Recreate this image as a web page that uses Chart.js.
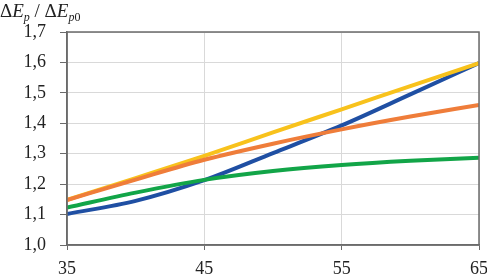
<!DOCTYPE html>
<html>
<head>
<meta charset="utf-8">
<script src="https://cdn.jsdelivr.net/npm/chart.js@4/dist/chart.umd.min.js"></script>
<style>
  html, body { margin: 0; padding: 0; background: #fff; }
  #wrap { width: 487px; height: 277px; position: relative; }
</style>
</head>
<body>
<div id="wrap"><canvas id="chart"></canvas></div>
<script>
// x values (shared) and the four curves
const xValues = [35, 40, 45, 50, 55, 60, 65];
const orangeValues = [1.148, 1.215, 1.280, 1.333, 1.380, 1.422, 1.460];
const greenValues  = [1.123, 1.172, 1.214, 1.243, 1.263, 1.277, 1.287];
const yellowValues = [1.148, 1.220, 1.293, 1.370, 1.446, 1.522, 1.598];
const blueValues   = [1.102, 1.145, 1.213, 1.302, 1.393, 1.495, 1.598];

const FONT = '"Liberation Serif", "DejaVu Serif", serif';

const toPoints = vals => vals.map((v, i) => ({ x: xValues[i], y: v }));

const makeSet = (vals, color) => ({
  data: toPoints(vals),
  borderColor: color,
  backgroundColor: color,
  borderWidth: 4,
  pointRadius: 0,
  cubicInterpolationMode: 'monotone',
  fill: false
});

// frame around plot area + axis title with subscripts
const framePlugin = {
  id: 'frame',
  afterDraw(chart) {
    const { ctx, chartArea: a } = chart;
    ctx.save();
    ctx.strokeStyle = '#6b6b6b';
    ctx.lineWidth = 1.5;
    ctx.strokeRect(a.left, a.top, a.right - a.left, a.bottom - a.top);

    // title: ΔEp / ΔEp0
    ctx.fillStyle = '#222';
    ctx.textBaseline = 'alphabetic';
    let x = 0;
    const base = 17;
    const parts = [
      ['Δ', 'normal', 19, 0],
      ['E', 'italic', 19, 0],
      ['p', 'italic', 12, 4],
      [' / Δ', 'normal', 19, 0],
      ['E', 'italic', 19, 0],
      ['p', 'italic', 12, 4],
      ['0', 'normal', 12, 4]
    ];
    parts.forEach(([t, style, size, dy]) => {
      ctx.font = `${style} ${size}px ${FONT}`;
      ctx.fillText(t, x, base + dy);
      x += ctx.measureText(t).width;
    });
    ctx.restore();
  }
};

new Chart(document.getElementById('chart'), {
  type: 'line',
  data: {
    datasets: [
      makeSet(orangeValues, '#ef7d3a'),
      makeSet(greenValues, '#12a548'),
      makeSet(yellowValues, '#f8c21c'),
      makeSet(blueValues, '#1f4fa3')
    ]
  },
  options: {
    responsive: true,
    maintainAspectRatio: false,
    animation: false,
    layout: { padding: { top: 32, right: 8, left: 0, bottom: 0 } },
    plugins: {
      legend: { display: false },
      tooltip: { enabled: false }
    },
    scales: {
      x: {
        type: 'linear',
        min: 35,
        max: 65,
        ticks: {
          stepSize: 10,
          color: '#222',
          padding: 8,
          maxRotation: 0,
          font: { family: FONT, size: 18 }
        },
        grid: { color: '#d9d9d9', tickColor: '#6b6b6b', tickLength: 5, lineWidth: 1 },
        border: { color: '#6b6b6b', width: 1.5 },
        afterFit(scale) {
          scale.height = 32;
          scale.paddingLeft = 0;
          scale.paddingRight = 0;
        }
      },
      y: {
        min: 1.0,
        max: 1.7,
        ticks: {
          stepSize: 0.1,
          color: '#222',
          padding: 14,
          font: { family: FONT, size: 18 },
          callback: v => v.toFixed(1).replace('.', ',')
        },
        grid: { color: '#d9d9d9', tickColor: '#6b6b6b', tickLength: 7, lineWidth: 1 },
        border: { color: '#6b6b6b', width: 1.5 },
        afterFit(scale) {
          scale.width = 67;
          scale.paddingTop = 0;
          scale.paddingBottom = 0;
        }
      }
    }
  },
  plugins: [framePlugin]
});
</script>
</body>
</html>
